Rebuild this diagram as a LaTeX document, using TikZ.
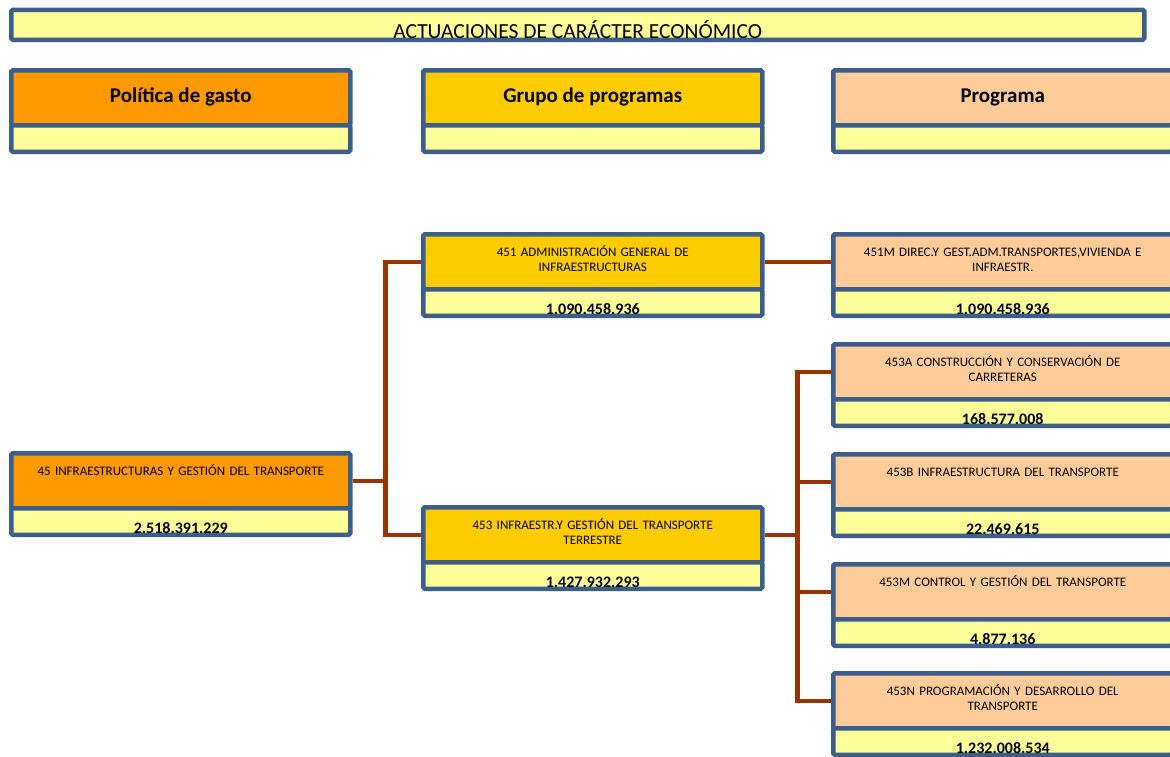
\documentclass[tikz,border=0pt]{standalone}
\usepackage{fontspec}
\setmainfont{Carlito}
\usetikzlibrary{shapes,arrows,positioning}
\definecolor{marco}{HTML}{3B5E8C}
\definecolor{polit}{HTML}{FF9900}
\definecolor{grupo}{HTML}{FFCC00}
\definecolor{progr}{HTML}{FFCC99}
\definecolor{cifra}{HTML}{FFFF99}
\definecolor{enlace}{HTML}{993300}
\tikzstyle{caja}     = [rectangle, draw=marco, line width=4.5pt, rounded corners=1.5pt, anchor=north west, minimum width=339pt]
\tikzstyle{cabecera} = [caja, inner ysep=0pt, text height=32pt, text depth=23pt, font=\fontsize{21}{24}\selectfont\bfseries]
\tikzstyle{nombre}   = [caja, text width=325pt, align=center, inner ysep=0pt, text height=22pt, text depth=33pt, font=\fontsize{13}{15}\selectfont]
\tikzstyle{cifrabox} = [caja, fill=cifra, inner ysep=0pt, text height=25.5pt, text depth=1pt, font=\fontsize{16}{18}\selectfont\bfseries]
\tikzstyle{line}     = [draw=enlace, line width=4.5pt]
\begin{document}
\begin{tikzpicture}[x=1pt, y=-1pt, node distance=-4.5pt, auto]
		\useasboundingbox (0,0) rectangle (1170,756);
		
		% Node Setting %
		
		% Titulo ==================================%
		\node [caja, fill=cifra, minimum width=1133pt, inner ysep=0pt, text height=29pt, text depth=1pt, font=\fontsize{21.5}{24}\selectfont] (titulo) at (9,7.5) {ACTUACIONES DE CARÁCTER ECONÓMICO};
		% Cabeceras ===============================%
		\node [cabecera, fill=polit] (hpol) at (9,68) {Política de gasto};
		\node [cifrabox, below=of hpol] (hpolV) {};
		\node [cabecera, fill=grupo] (hgru) at (421,68) {Grupo de programas};
		\node [cifrabox, below=of hgru] (hgruV) {};
		\node [cabecera, fill=progr] (hpro) at (831,68) {Programa};
		\node [cifrabox, below=of hpro] (hproV) {};
		% Politica ================================%
		\node [nombre, fill=polit] (p45) at (9,451) {45 INFRAESTRUCTURAS Y GESTIÓN DEL TRANSPORTE};
		\node [cifrabox, below=of p45] (p45V) {2.518.391.229};
		% Grupos ==================================%
		\node [nombre, fill=grupo] (g451) at (421,232) {451 ADMINISTRACIÓN GENERAL DE\\INFRAESTRUCTURAS};
		\node [cifrabox, below=of g451] (g451V) {1.090.458.936};
		\node [nombre, fill=grupo] (g453) at (421,505) {453 INFRAESTR.Y GESTIÓN DEL TRANSPORTE\\TERRESTRE};
		\node [cifrabox, below=of g453] (g453V) {1.427.932.293};
		% Programas ===============================%
		\node [nombre, fill=progr] (r451M) at (831,232) {451M DIREC.Y GEST.ADM.TRANSPORTES,VIVIENDA E\\INFRAESTR.};
		\node [cifrabox, below=of r451M] (r451MV) {1.090.458.936};
		\node [nombre, fill=progr] (r453A) at (831,342) {453A CONSTRUCCIÓN Y CONSERVACIÓN DE\\CARRETERAS};
		\node [cifrabox, below=of r453A] (r453AV) {168.577.008};
		\node [nombre, fill=progr] (r453B) at (831,452) {453B INFRAESTRUCTURA DEL TRANSPORTE};
		\node [cifrabox, below=of r453B] (r453BV) {22.469.615};
		\node [nombre, fill=progr] (r453M) at (831,562) {453M CONTROL Y GESTIÓN DEL TRANSPORTE};
		\node [cifrabox, below=of r453M] (r453MV) {4.877.136};
		\node [nombre, fill=progr] (r453N) at (831,671) {453N PROGRAMACIÓN Y DESARROLLO DEL\\TRANSPORTE};
		\node [cifrabox, below=of r453N] (r453NV) {1.232.008.534};
		%=========================================%
		
		% Connection %
		
		\path [line] (p45.east)  -- ++(33,0) |- (g451.west);
		\path [line] (p45.east)  -- ++(33,0) |- (g453.west);
		\path [line] (g451.east)  -- (r451M.west);
		\path [line] (g453.east)  -- ++(33,0) |- (r453A.west);
		\path [line] (g453.east)  -- ++(33,0) |- (r453B.west);
		\path [line] (g453.east)  -- ++(33,0) |- (r453M.west);
		\path [line] (g453.east)  -- ++(33,0) |- (r453N.west);
	\end{tikzpicture}
\end{document}
